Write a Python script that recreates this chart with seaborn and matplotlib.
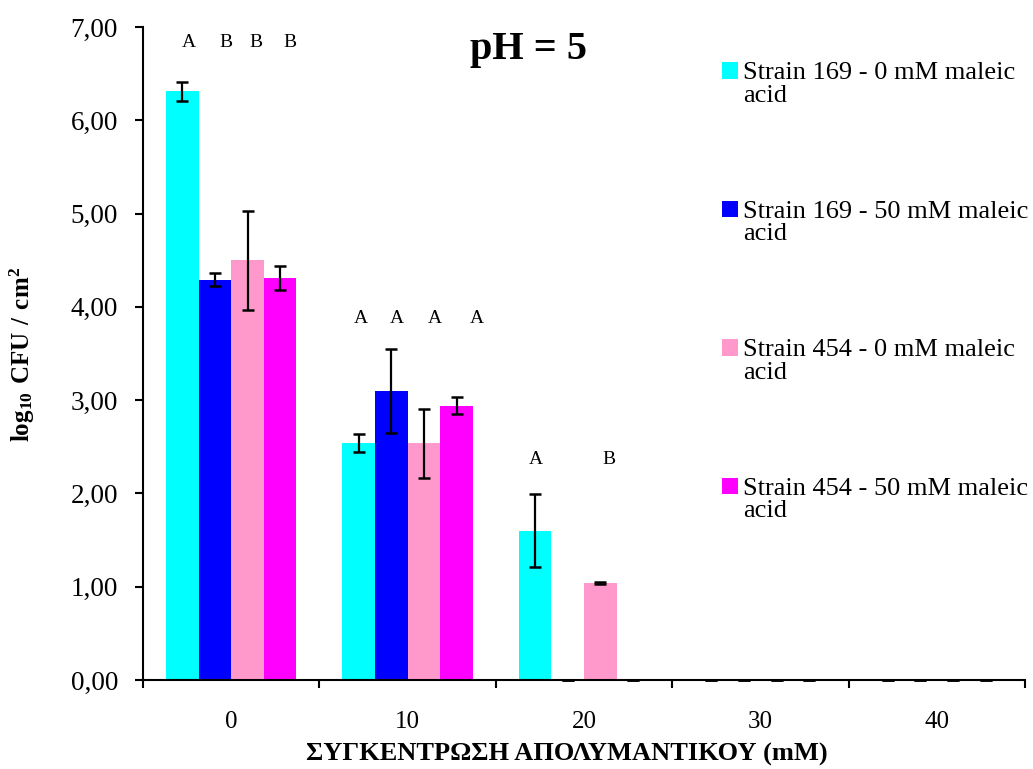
import numpy as np
import pandas as pd
import matplotlib
matplotlib.use("Agg")
import matplotlib.pyplot as plt
import seaborn as sns
from matplotlib.patches import Patch, Rectangle
from matplotlib.legend_handler import HandlerPatch
from matplotlib.ticker import FuncFormatter

# ---- data ----
concentrations = ["0", "10", "20", "30", "40"]
series = [
    "Strain 169 - 0 mM maleic\nacid",
    "Strain 169 - 50 mM maleic\nacid",
    "Strain 454 - 0 mM maleic\nacid",
    "Strain 454 - 50 mM maleic\nacid",
]
s169_0 = [6.31, 2.54, 1.60, 0.0, 0.0]
s169_50 = [4.29, 3.10, 0.0, 0.0, 0.0]
s454_0 = [4.50, 2.54, 1.04, 0.0, 0.0]
s454_50 = [4.31, 2.94, 0.0, 0.0, 0.0]

err169_0 = [0.10, 0.10, 0.39, 0.0, 0.0]
err169_50 = [0.07, 0.45, 0.0, 0.0, 0.0]
err454_0 = [0.53, 0.37, 0.01, 0.0, 0.0]
err454_50 = [0.13, 0.09, 0.0, 0.0, 0.0]

colors = ["#00FFFF", "#0000FF", "#FF99CC", "#FF00FF"]

# significance letters: group index, series index, letter, height
letters_group = [0, 0, 0, 0, 1, 1, 1, 1, 2, 2]
letters_series = [0, 1, 2, 3, 0, 1, 2, 3, 0, 2]
letters_text = ["A", "B", "B", "B", "A", "A", "A", "A", "A", "B"]
letters_y = [6.83, 6.83, 6.83, 6.83, 3.87, 3.87, 3.87, 3.87, 2.36, 2.36]
letters_dx = [0.037, 0.062, 0.045, 0.057, 0.011, 0.034, 0.06, 0.113, 0.006, 0.051]

values = [s169_0, s169_50, s454_0, s454_50]
errors = [err169_0, err169_50, err454_0, err454_50]

rows = []
for s, vals, errs in zip(series, values, errors):
    for c, v, e in zip(concentrations, vals, errs):
        rows.append({"conc": c, "value": v, "err": e, "series": s})
df = pd.DataFrame(rows)

# ---- plot ----
sns.set_style("white")
plt.rcParams["font.family"] = ["Liberation Serif", "DejaVu Serif"]
plt.rcParams["mathtext.fontset"] = "custom"
plt.rcParams["mathtext.rm"] = "Liberation Serif"
plt.rcParams["mathtext.bf"] = "Liberation Serif:bold"
for k in ["text.color", "axes.labelcolor", "xtick.color", "ytick.color"]:
    plt.rcParams[k] = "black"

fig = plt.figure(figsize=(10.33, 7.69), dpi=100)
ax = fig.add_axes([143 / 1033, 1 - 680 / 769, (1025 - 143) / 1033, (680 - 27) / 769])

sns.barplot(data=df, x="conc", y="value", hue="series", hue_order=series,
            order=concentrations, palette=colors, width=0.74, saturation=1,
            errorbar=None, legend=False, ax=ax, linewidth=0)

for cont, errs in zip(ax.containers, errors):
    xs = [b.get_x() + b.get_width() / 2 for b in cont]
    hs = [b.get_height() for b in cont]
    eb = ax.errorbar(xs, hs, yerr=errs, fmt="none", ecolor="black",
                     elinewidth=1.6, capsize=4.3, capthick=1.8, zorder=5)
    for art in list(eb.lines[1]) + list(eb.lines[2]):
        art.set_clip_on(False)

for g, si, t, y, dx in zip(letters_group, letters_series, letters_text, letters_y, letters_dx):
    b = ax.containers[si][g]
    ax.text(b.get_x() + b.get_width() / 2 + dx, y, t, ha="center", va="center",
            fontsize=14, color="black")

ax.set_ylim(0, 7)
ax.set_xlim(-0.5, len(concentrations) - 0.5)
ax.set_yticks(np.arange(0, 8, 1))
ax.yaxis.set_major_formatter(FuncFormatter(lambda v, p: f"{v:.2f}".replace(".", ",")))
ax.set_xticks(np.arange(-0.5, len(concentrations), 1.0))
ax.set_xticklabels([])
ax.set_xticks(np.arange(len(concentrations)), minor=True)
ax.set_xticklabels(concentrations, minor=True)
ax.tick_params(axis="x", which="minor", length=0, labelsize=18, pad=22)
ax.tick_params(axis="x", which="major", length=6, width=1.5, direction="out",
               bottom=True, color="black")
ax.tick_params(axis="y", length=6, width=1.5, direction="out", left=True,
               labelsize=19.5, pad=12, color="black")

for side in ["top", "right"]:
    ax.spines[side].set_visible(False)
for side in ["left", "bottom"]:
    ax.spines[side].set_color("black")
    ax.spines[side].set_linewidth(1.5)

ax.set_xlabel("ΣΥΓΚΕΝΤΡΩΣΗ ΑΠΟΛΥΜΑΝΤΙΚΟΥ (mM)", fontsize=19, fontweight="bold")
ax.xaxis.set_label_coords((567 - 143) / 882, -(743 - 680) / 653)
ax.set_ylabel(r"$\mathbf{log_{10}\ CFU\ /\ cm^{2}}$", fontsize=18)
ax.yaxis.set_label_coords((37 - 143) / 882, (680 - 354) / 653)

fig.text(528 / 1033, 1 - 50 / 769, "pH = 5", fontsize=29, fontweight="bold",
         ha="center", va="center")


def shifted_square(legend, orig_handle, xdescent, ydescent, width, height, fontsize):
    return Rectangle((-xdescent, -ydescent + 0.5 * fontsize), width, height)


handles = [Patch(facecolor=c, edgecolor="none") for c in colors]
leg = ax.legend(handles, series, loc="upper left",
                bbox_to_anchor=(722 / 1033, 1 - 62 / 769),
                bbox_transform=fig.transFigure, frameon=False, fontsize=19,
                handlelength=0.6, handleheight=0.6, handletextpad=0.2,
                labelspacing=3.55, borderaxespad=0, borderpad=0,
                handler_map={Patch: HandlerPatch(patch_func=shifted_square)})
for t in leg.get_texts():
    t.set_linespacing(1.05)

fig.savefig("out.png", dpi=100)
